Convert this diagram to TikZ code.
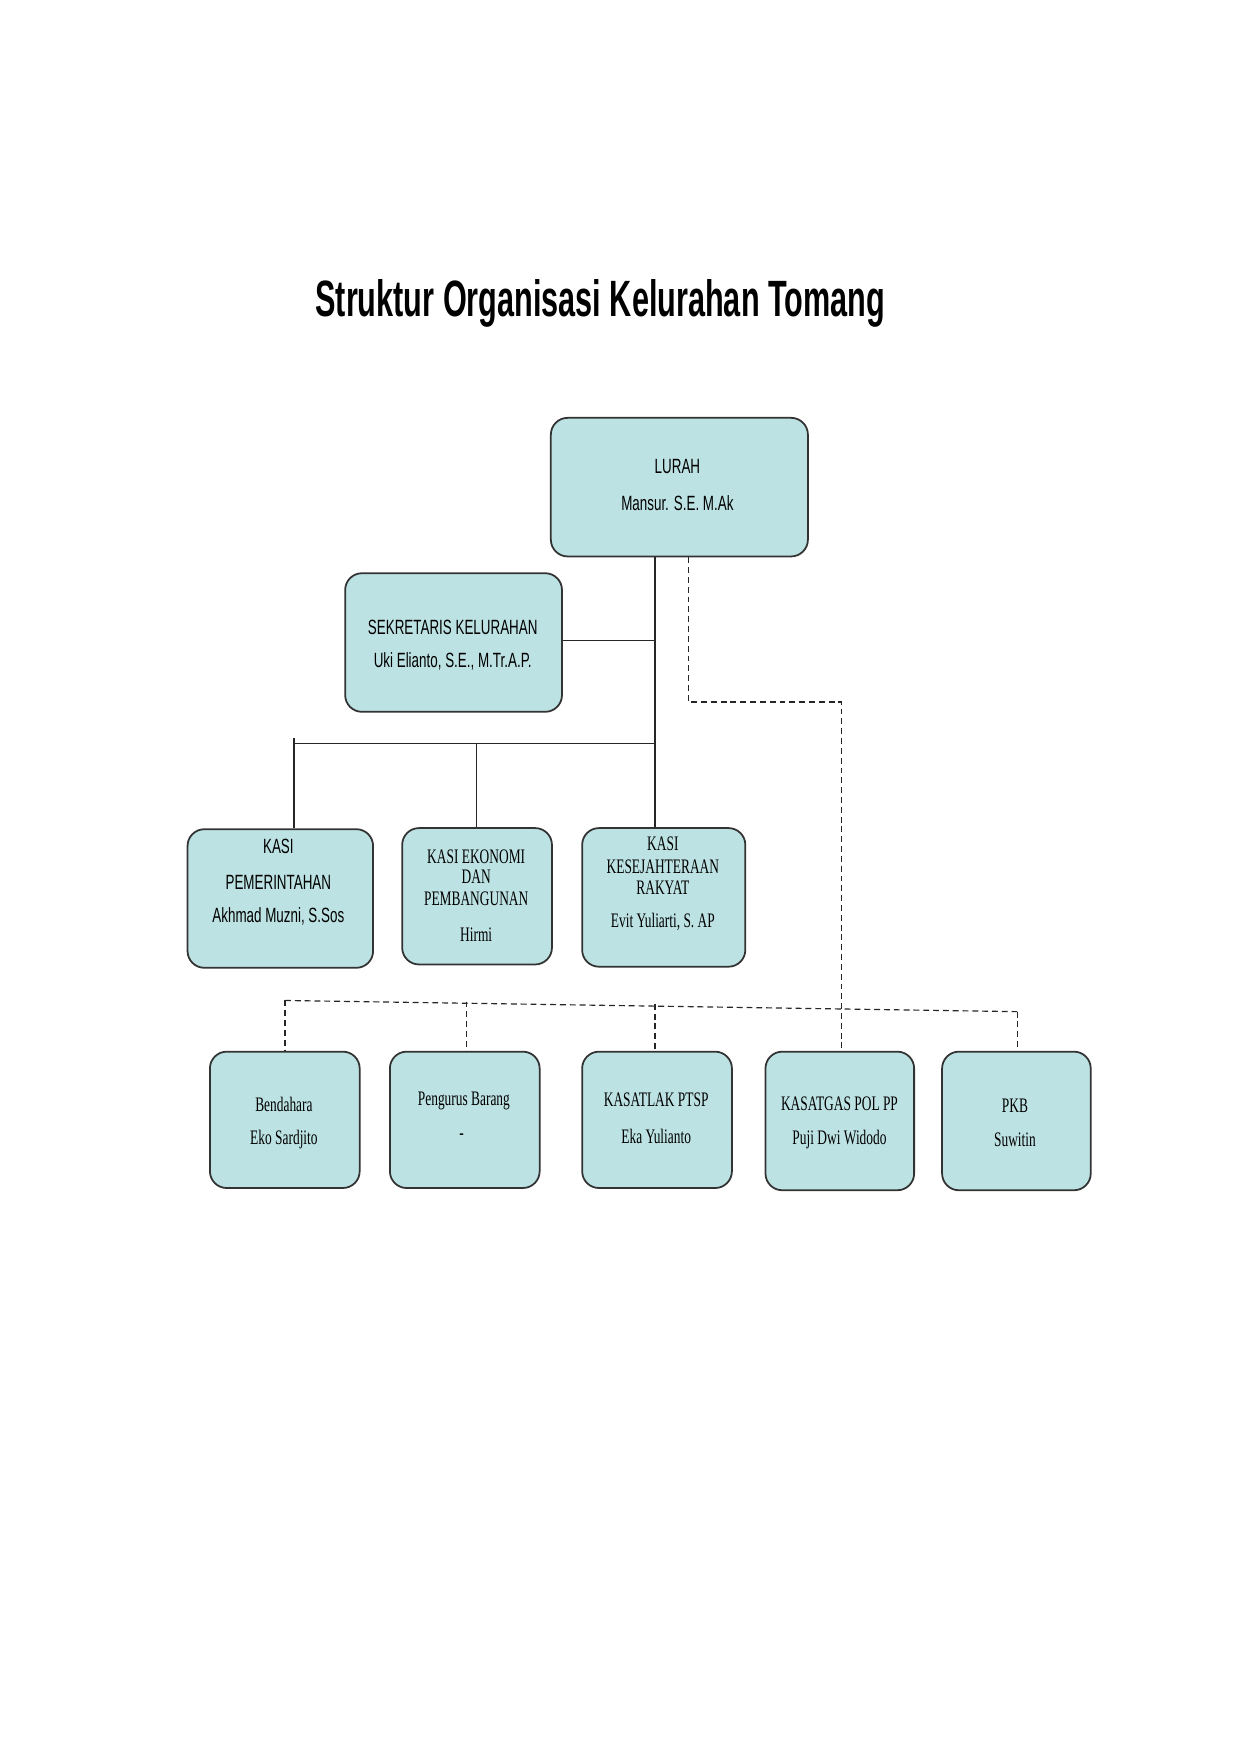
\documentclass[tikz,border=0pt]{standalone}
\usepackage{fontspec}
\setmainfont{Liberation Sans}[FakeStretch=0.65]
\newfontfamily\serifn{Liberation Serif}[FakeStretch=0.65]
\newfontfamily\titlef{Liberation Sans}[FakeStretch=0.6]
\begin{document}
\begin{tikzpicture}[x=0.02cm,y=-0.02cm,
  box/.style={draw=black!80,line width=0.9pt,fill=boxc,rounded corners=0.3cm,anchor=north west,inner sep=0pt},
  t/.style={font=\fontsize{10.5}{12}\selectfont,inner sep=0pt},
  ts/.style={font=\serifn\fontsize{10.5}{12}\selectfont,inner sep=0pt},
  ln/.style={draw=black!85,line width=0.6pt},
  dl/.style={draw=black!85,line width=0.6pt,dash pattern=on 3pt off 2pt}]
\definecolor{boxc}{HTML}{BDE2E3}
\useasboundingbox[fill=white] (0,0) rectangle (1110,1570);
\node[font=\titlef\bfseries\fontsize{26}{30}\selectfont,inner sep=0pt] (title) at (537,271) {Struktur Organisasi Kelurahan Tomang};
% boxes
\node[box,minimum width=4.6cm,minimum height=2.48cm] (lurah) at (492,373) {};
\node[box,minimum width=3.88cm,minimum height=2.48cm] (sek) at (308,512) {};
\node[box,minimum width=3.32cm,minimum height=2.48cm] (pem) at (167,741) {};
\node[box,minimum width=2.68cm,minimum height=2.44cm] (eko) at (359,740) {};
\node[box,minimum width=2.92cm,minimum height=2.48cm] (kes) at (520,740) {};
\node[box,minimum width=2.68cm,minimum height=2.44cm] (ben) at (187,940) {};
\node[box,minimum width=2.68cm,minimum height=2.44cm] (pen) at (348,940) {};
\node[box,minimum width=2.68cm,minimum height=2.44cm] (ptsp) at (520,940) {};
\node[box,minimum width=2.66cm,minimum height=2.48cm] (pol) at (684,940) {};
\node[box,minimum width=2.66cm,minimum height=2.48cm] (pkb) at (842,940) {};
% texts
\node[t] (l1) at (606,417) {LURAH};
\node[t] (l2) at (606,450) {Mansur. S.E. M.Ak};
\node[t] (s1) at (405,561) {SEKRETARIS KELURAHAN};
\node[t] (s2) at (405,592) {Uki Elianto, S.E., M.Tr.A.P.};
\node[t] (p1) at (249,757) {KASI};
\node[t] (p2) at (249,789) {PEMERINTAHAN};
\node[t] (p3) at (249,820) {Akhmad Muzni, S.Sos};
\node[ts] (e1) at (426,766) {KASI EKONOMI};
\node[ts] (e2) at (426,784) {DAN};
\node[ts] (e3) at (426,804) {PEMBANGUNAN};
\node[ts] (e4) at (426,836) {Hirmi};
\node[ts] (k1) at (593,755) {KASI};
\node[ts] (k2) at (593,775) {KESEJAHTERAAN};
\node[ts] (k3) at (593,794) {RAKYAT};
\node[ts] (k4) at (593,825) {Evit Yuliarti, S. AP};
\node[ts] (b1) at (254,988) {Bendahara};
\node[ts] (b2) at (254,1019) {Eko Sardjito};
\node[ts] (g1) at (415,985) {Pengurus Barang};
\node[ts] (g2) at (413,1017) {-};
\node[ts] (a1) at (587,984) {KASATLAK PTSP};
\node[ts] (a2) at (587,1017) {Eka Yulianto};
\node[ts] (o1) at (751,987) {KASATGAS POL PP};
\node[ts] (o2) at (751,1019) {Puji Dwi Widodo};
\node[ts] (q1) at (908,989) {PKB};
\node[ts] (q2) at (908,1020) {Suwitin};
% solid connectors
\coordinate (j1) at (586,573);
\coordinate (j2) at (586,665);
\coordinate (hl) at (263,665);
\draw[ln] (lurah.south west -| j1) -- (kes.north -| j1);
\draw[ln] (sek.east |- j1) -- (j1);
\draw[ln] (j2) -- (hl);
\draw[ln] (263,660) -- (263,670);
\draw[ln] (hl) -- (pem.north -| hl);
\draw[ln] (426,665) -- (eko.north -| 426,0);
% dashed
\coordinate (d0) at (616,628);
\coordinate (d1) at (753,628);
\draw[dl] (lurah.south -| d0) -- (d0) -- (d1) -- (pol.north -| d1);
\coordinate (hL) at (255,895);
\coordinate (hR) at (910,905);
\draw[dl] (hL) -- (hR);
\draw[dl] (hL) -- (ben.north -| hL);
\draw[dl] (417,896) -- (pen.north -| 417,0);
\draw[dl] (586,898) -- (ptsp.north -| 586,0);
\draw[dl] (hR) -- (pkb.north -| hR);
\end{tikzpicture}
\end{document}
